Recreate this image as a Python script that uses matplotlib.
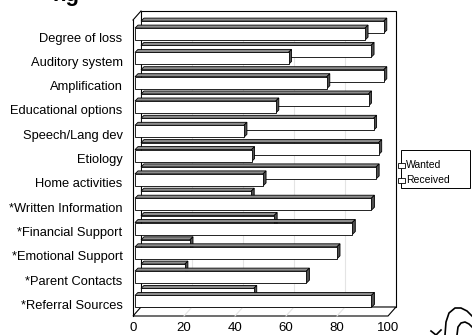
import matplotlib
matplotlib.use("Agg")
import matplotlib.pyplot as plt
from matplotlib.patches import Polygon, Rectangle
from matplotlib.lines import Line2D

categories = ["Degree of loss", "Auditory system", "Amplification",
              "Educational options", "Speech/Lang dev", "Etiology",
              "Home activities", "*Written Information", "*Financial Support",
              "*Emotional Support", "*Parent Contacts", "*Referral Sources"]
wanted = [96, 91, 96, 90, 92, 94, 93, 44, 53, 20, 18, 45]
received = [91, 61, 76, 56, 43.5, 46.5, 51, 93.5, 86, 80, 68, 93.5]
series_names = ["Wanted", "Received"]
ticks = [0, 20, 40, 60, 80, 100]

plt.rcParams["font.family"] = ["Liberation Sans", "DejaVu Sans"]

W, H = 472, 335
fig = plt.figure(figsize=(W / 100, H / 100), dpi=100)
ax = fig.add_axes([133 / W, 19 / H, 255 / W, 296 / H])
ytop, ybot = -0.70, 11.48
ax.set_xlim(0, 100)
ax.set_ylim(ybot, ytop)

# pixel -> data helpers
px_x = 100 / 255
px_y = (ybot - ytop) / 296

wall_dx, wall_dy = 8 * px_x, 9 * px_y      # depth of the chart box
ser_dx, ser_dy = 6 * px_x, 7 * px_y        # back series shift
bar_dx, bar_dy = 3 * px_x, 3 * px_y        # depth of each bar
bar_h = 12 * px_y
bar_x0 = 2 * px_x

for s in ax.spines.values():
    s.set_visible(False)

# back wall and floor
ax.add_patch(Rectangle((wall_dx, ytop - wall_dy), 100, ybot - ytop,
                       facecolor="white", edgecolor="black", lw=0.8,
                       clip_on=False, zorder=0))
for t in ticks[1:-1]:
    ax.add_line(Line2D([t + wall_dx, t + wall_dx], [ytop - wall_dy, ybot - wall_dy],
                       color="#e4e4e4", lw=0.8, zorder=0.5))
ax.add_patch(Polygon([(0, ybot), (100, ybot), (100 + wall_dx, ybot - wall_dy),
                      (wall_dx, ybot - wall_dy)], closed=True,
                     facecolor="white", edgecolor="black", lw=0.8,
                     clip_on=False, zorder=0.6))
for t in ticks[1:-1]:
    ax.add_line(Line2D([t, t + wall_dx], [ybot, ybot - wall_dy],
                       color="#e4e4e4", lw=0.8, clip_on=False, zorder=0.7))
ax.add_line(Line2D([0, 0], [ytop, ybot], color="black", lw=0.8,
                   clip_on=False, zorder=0.8))
ax.add_line(Line2D([0, wall_dx], [ytop, ytop - wall_dy], color="black", lw=0.8,
                   clip_on=False, zorder=0.8))


def bar3d(x0, x1, yc, z):
    top = yc - bar_h / 2
    bot = yc + bar_h / 2
    kw = dict(edgecolor="black", lw=0.6, clip_on=False, zorder=z, joinstyle="miter")
    ax.add_patch(Polygon([(x0, top), (x1, top), (x1 + bar_dx, top - bar_dy),
                          (x0 + bar_dx, top - bar_dy)], closed=True,
                         facecolor="#8c8c8c", **kw))
    ax.add_patch(Polygon([(x1, top), (x1, bot), (x1 + bar_dx, bot - bar_dy),
                          (x1 + bar_dx, top - bar_dy)], closed=True,
                         facecolor="#505050", **kw))
    ax.add_patch(Rectangle((x0, top), x1 - x0, bar_h, facecolor="white", **kw))


off = 0.12
for i, v in enumerate(wanted):
    bar3d(bar_x0 + ser_dx, v + ser_dx, i - off - ser_dy, 2)
for i, v in enumerate(received):
    bar3d(bar_x0, v, i - off, 3)

ax.set_yticks(range(len(categories)))
ax.set_yticklabels(categories, fontsize=9.3)
ax.set_xticks(ticks)
ax.set_xticklabels([str(t) for t in ticks], fontsize=9.5)
ax.tick_params(length=0)
ax.tick_params(axis="y", pad=7.5)
ax.tick_params(axis="x", pad=4)


def fx(p):
    return p / W


def fy(p):
    return 1 - p / H


# legend
fig.patches.append(Rectangle((fx(401), fy(188)), fx(470) - fx(401), fy(150) - fy(188),
                             transform=fig.transFigure, facecolor="white",
                             edgecolor="black", lw=0.7))
for k, (name, yk) in enumerate(zip(series_names, [165, 180])):
    fig.patches.append(Rectangle((fx(398), fy(yk + 3)), fx(405) - fx(398), fy(yk - 2) - fy(yk + 3),
                                 transform=fig.transFigure, facecolor="white",
                                 edgecolor="black", lw=0.6))
    fig.text(fx(406), fy(yk), name, fontsize=7.5, va="center", ha="left")

# cut-off title fragment (cut at the top edge, as in the source)
fig.text(fx(80), fy(1), "ng", fontsize=16, fontweight="bold", ha="right", va="baseline")

# decorative curl at the bottom right
fig.lines.append(Line2D([fx(p) for p in [445, 446, 449, 455, 461, 467, 472]],
                        [fy(p) for p in [335, 322, 313, 308, 308, 311, 316]],
                        transform=fig.transFigure, color="black", lw=1.2))
fig.lines.append(Line2D([fx(p) for p in [457, 458, 461, 465, 469, 472]],
                        [fy(p) for p in [335, 327, 323, 322, 324, 327]],
                        transform=fig.transFigure, color="black", lw=1.2))
fig.lines.append(Line2D([fx(p) for p in [431, 436, 441]],
                        [fy(p) for p in [331, 335, 330]],
                        transform=fig.transFigure, color="black", lw=1.2))

fig.savefig("out.png", dpi=100)
